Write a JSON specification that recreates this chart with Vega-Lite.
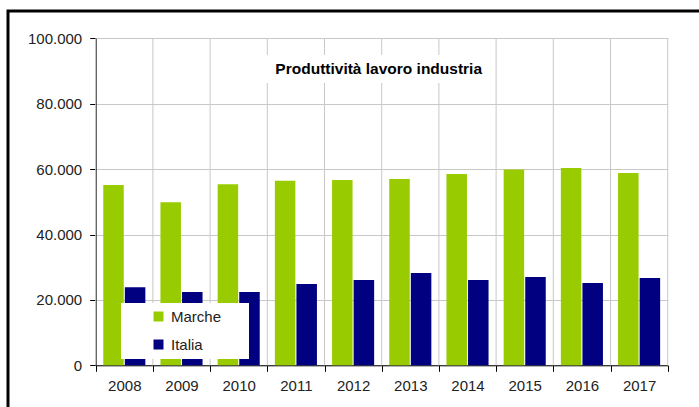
{
  "$schema": "https://vega.github.io/schema/vega-lite/v6.json",
  "width": 700,
  "height": 400,
  "autosize": {"type": "none"},
  "padding": {"left": 8, "top": 11, "right": 0, "bottom": 0},
  "background": "white",
  "config": {
    "view": {"stroke": "black", "strokeWidth": 3},
    "font": "Liberation Sans",
    "axis": {
      "domainColor": "black",
      "tickColor": "black",
      "tickSize": 6,
      "gridColor": "#c8c8c8",
      "labelFontSize": 15,
      "labelColor": "#222222",
      "labelFont": "Liberation Sans"
    }
  },
  "layer": [
    {
      "data": {
        "values": [
          {"year": "2008", "serie": "Marche", "value": 55100},
          {"year": "2009", "serie": "Marche", "value": 49900},
          {"year": "2010", "serie": "Marche", "value": 55400},
          {"year": "2011", "serie": "Marche", "value": 56400},
          {"year": "2012", "serie": "Marche", "value": 56700},
          {"year": "2013", "serie": "Marche", "value": 57000},
          {"year": "2014", "serie": "Marche", "value": 58500},
          {"year": "2015", "serie": "Marche", "value": 59900},
          {"year": "2016", "serie": "Marche", "value": 60300},
          {"year": "2017", "serie": "Marche", "value": 58800},
          {"year": "2008", "serie": "Italia", "value": 23900},
          {"year": "2009", "serie": "Italia", "value": 22400},
          {"year": "2010", "serie": "Italia", "value": 22400},
          {"year": "2011", "serie": "Italia", "value": 24900},
          {"year": "2012", "serie": "Italia", "value": 26100},
          {"year": "2013", "serie": "Italia", "value": 28200},
          {"year": "2014", "serie": "Italia", "value": 26100},
          {"year": "2015", "serie": "Italia", "value": 27000},
          {"year": "2016", "serie": "Italia", "value": 25200},
          {"year": "2017", "serie": "Italia", "value": 26700}
        ]
      },
      "mark": {"type": "bar"},
      "encoding": {
        "x": {
          "field": "year",
          "type": "nominal",
          "scale": {"range": [87.7, 659.7], "paddingInner": 0, "paddingOuter": 0},
          "axis": {"title": null, "labelAngle": 0, "tickBand": "extent", "bandPosition": 0.5, "grid": false, "offset": -45.7, "labelPadding": 7}
        },
        "xOffset": {
          "field": "serie",
          "type": "nominal",
          "sort": ["Marche", "Italia"],
          "scale": {"paddingInner": 0.05, "paddingOuter": 0.35}
        },
        "y": {
          "field": "value",
          "type": "quantitative",
          "scale": {"domain": [0, 100000], "range": [354.3, 27.3], "nice": false, "zero": true},
          "axis": {
            "title": null,
            "values": [0, 20000, 40000, 60000, 80000, 100000],
            "labelExpr": "replace(format(datum.value, ','), ',', '.')",
            "offset": -87.7,
            "labelPadding": 8,
            "grid": true
          }
        },
        "color": {
          "field": "serie",
          "type": "nominal",
          "scale": {"domain": ["Marche", "Italia"], "range": ["#99CC00", "#000080"]},
          "legend": {
            "orient": "none",
            "legendX": 113,
            "legendY": 292,
            "title": " ",
            "titleOrient": "right",
            "titlePadding": 22,
            "fillColor": "white",
            "padding": 6,
            "symbolType": "square",
            "symbolSize": 100,
            "symbolStrokeWidth": 0,
            "symbolOffset": 24,
            "labelOffset": 5,
            "labelFontSize": 15,
            "labelColor": "#222222",
            "labelFont": "Liberation Sans",
            "rowPadding": 12
          }
        }
      }
    },
    {
      "data": {"values": [
        {"year": "2008"}, {"year": "2009"}, {"year": "2010"}, {"year": "2011"}, {"year": "2012"},
        {"year": "2013"}, {"year": "2014"}, {"year": "2015"}, {"year": "2016"}, {"year": "2017"}
      ]},
      "mark": {"type": "rule", "color": "#c8c8c8", "strokeWidth": 1},
      "encoding": {
        "x": {"field": "year", "type": "nominal", "bandPosition": 0},
        "y": {"datum": 0, "type": "quantitative"},
        "y2": {"datum": 100000}
      }
    },
    {
      "data": {"values": [{"year": "2017"}]},
      "mark": {"type": "rule", "color": "#c8c8c8", "strokeWidth": 1},
      "encoding": {
        "x": {"field": "year", "type": "nominal", "bandPosition": 1},
        "y": {"datum": 0, "type": "quantitative"},
        "y2": {"datum": 100000}
      }
    },
    {
      "data": {"values": [{"box": "title"}]},
      "mark": {"type": "rect", "color": "white"},
      "encoding": {
        "x": {"datum": "2010", "type": "nominal", "bandPosition": 0.97},
        "x2": {"datum": "2014", "bandPosition": 0.9},
        "y": {"datum": 94900, "type": "quantitative"},
        "y2": {"datum": 86300}
      }
    },
    {
      "data": {"values": [{"label": "Produttività lavoro industria"}]},
      "mark": {"type": "text", "fontWeight": "bold", "fontSize": 15.5, "color": "black", "dx": -3, "font": "Liberation Sans"},
      "encoding": {
        "x": {"datum": "2012", "type": "nominal", "bandPosition": 1},
        "y": {"datum": 90500, "type": "quantitative"},
        "text": {"field": "label"}
      }
    }
  ]
}
